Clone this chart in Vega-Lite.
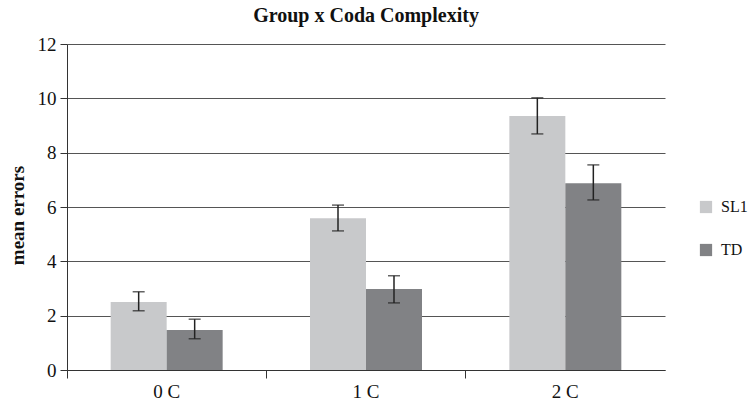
{
  "$schema": "https://vega.github.io/schema/vega-lite/v6.json",
  "autosize": {"type": "none"},
  "padding": {"left": 67, "top": 44, "right": 87, "bottom": 36},
  "width": 598,
  "height": 326,
  "title": {"text": "Group x Coda Complexity", "font": "Liberation Serif", "fontSize": 20, "fontWeight": "bold", "color": "#111", "anchor": "middle", "offset": 9},
  "config": {"view": {"stroke": null}, "font": "Liberation Serif"},
  "data": {"values": [
    {"cat": "0 C", "group": "SL1", "mean": 2.5, "lo": 2.18, "hi": 2.88},
    {"cat": "0 C", "group": "TD", "mean": 1.47, "lo": 1.15, "hi": 1.87},
    {"cat": "1 C", "group": "SL1", "mean": 5.59, "lo": 5.12, "hi": 6.07},
    {"cat": "1 C", "group": "TD", "mean": 2.98, "lo": 2.47, "hi": 3.47},
    {"cat": "2 C", "group": "SL1", "mean": 9.35, "lo": 8.69, "hi": 10.02},
    {"cat": "2 C", "group": "TD", "mean": 6.87, "lo": 6.26, "hi": 7.55}
  ]},
  "encoding": {
    "x": {"field": "cat", "type": "nominal", "scale": {"paddingInner": 0, "paddingOuter": 0},
      "axis": {"title": null, "labelAngle": 0, "labelFont": "Liberation Serif", "labelFontSize": 19, "labelColor": "#111", "labelPadding": 4, "domainColor": "#333", "tickColor": "#333", "tickSize": 8, "bandPosition": 0, "grid": false}},
    "xOffset": {"field": "group", "type": "nominal", "scale": {"paddingInner": 0, "paddingOuter": 0.78}}
  },
  "layer": [
    {
      "mark": {"type": "bar"},
      "encoding": {
        "y": {"field": "mean", "type": "quantitative", "scale": {"domain": [0, 12]},
          "axis": {"title": "mean errors", "titleFont": "Liberation Serif", "titleFontSize": 19, "titleFontWeight": "bold", "titleColor": "#111", "titlePadding": 10, "titleY": 171, "values": [0, 2, 4, 6, 8, 10, 12], "labelFont": "Liberation Serif", "labelFontSize": 19, "labelColor": "#111", "labelPadding": 4, "tickSize": 7, "tickColor": "#333", "domainColor": "#333", "grid": true, "gridColor": "#555", "gridWidth": 1}},
        "color": {"field": "group", "type": "nominal", "scale": {"domain": ["SL1", "TD"], "range": ["#c8c9cb", "#818285"]},
          "legend": {"title": null, "orient": "none", "legendX": 631, "legendY": 155, "symbolType": "square", "symbolSize": 150, "symbolStrokeWidth": 0, "labelFont": "Liberation Serif", "labelFontSize": 16, "labelColor": "#111", "rowPadding": 27, "labelOffset": 7}}
      }
    },
    {
      "mark": {"type": "rule", "color": "#222", "strokeWidth": 1.5},
      "encoding": {"y": {"field": "lo", "type": "quantitative"}, "y2": {"field": "hi"}}
    },
    {
      "mark": {"type": "tick", "color": "#222", "thickness": 1.5, "size": 12},
      "encoding": {"y": {"field": "lo", "type": "quantitative"}}
    },
    {
      "mark": {"type": "tick", "color": "#222", "thickness": 1.5, "size": 12},
      "encoding": {"y": {"field": "hi", "type": "quantitative"}}
    }
  ]
}
